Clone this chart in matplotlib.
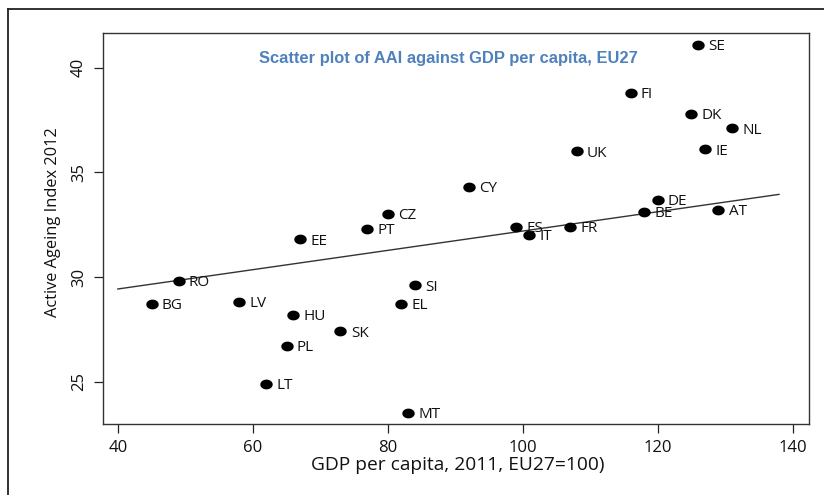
import numpy as np
import matplotlib
matplotlib.use("Agg")
import matplotlib.pyplot as plt
from matplotlib.path import Path
from matplotlib.lines import Line2D

# Country codes, GDP per capita (2011, EU27=100) and Active Ageing Index 2012
countries = ["SE", "FI", "DK", "NL", "IE", "UK", "CY", "DE", "BE", "AT",
             "ES", "IT", "FR", "CZ", "PT", "EE", "RO", "BG", "LV", "HU",
             "SK", "PL", "LT", "SI", "EL", "MT"]
gdp = [126, 116, 125, 131, 127, 108, 92, 120, 118, 129,
       99, 101, 107, 80, 77, 67, 49, 45, 58, 66,
       73, 65, 62, 84, 82, 83]
aai = [41.1, 38.8, 37.8, 37.1, 36.1, 36.0, 34.3, 33.7, 33.1, 33.2,
       32.4, 32.0, 32.4, 33.0, 32.3, 31.8, 29.8, 28.7, 28.8, 28.2,
       27.4, 26.7, 24.9, 29.6, 28.7, 23.5]

# Fitted line endpoints
trend_x = [40, 138]
trend_y = [29.43, 33.95]

x_ticks = [40, 60, 80, 100, 120, 140]
y_ticks = [25, 30, 35, 40]

title = "Scatter plot of AAI against GDP per capita, EU27"
x_label = "GDP per capita, 2011, EU27=100)"
y_label = "Active Ageing Index 2012"

plt.rcParams["font.family"] = ["Open Sans", "DejaVu Sans"]

fig = plt.figure(figsize=(8.24, 4.95), dpi=100)
W, H = 824, 495

# Outer frame (left and top edges)
fig.add_artist(Line2D([8.3 / W, 8.3 / W], [0, 1 - 9.3 / H], transform=fig.transFigure,
                      color="#222222", lw=1.3))
fig.add_artist(Line2D([8.3 / W, 1], [1 - 9.3 / H, 1 - 9.3 / H], transform=fig.transFigure,
                      color="#222222", lw=1.3))

ax_l, ax_r, ax_t, ax_b = 103, 808.7, 33, 424
ax = fig.add_axes([ax_l / W, 1 - ax_b / H, (ax_r - ax_l) / W, (ax_b - ax_t) / H])
ax.set_xlim(37.8, 142.4)
ax.set_ylim(22.98, 41.66)

# Slightly flattened dot marker
t = np.linspace(0, 2 * np.pi, 60)
ell = Path(np.column_stack([1.27 * np.cos(t), np.sin(t)]), closed=True)

ax.plot(trend_x, trend_y, color="#333333", lw=1.0, zorder=2)
ax.scatter(gdp, aai, marker=ell, s=80, color="black", zorder=3, linewidths=0)

for c, x, y in zip(countries, gdp, aai):
    ax.annotate(c, (x, y), xytext=(7.4, -1.2), textcoords="offset points",
                va="center", ha="left", fontsize=11, color="#111111", zorder=4)

ax.set_xticks(x_ticks)
ax.set_yticks(y_ticks)
ax.tick_params(axis="both", direction="out", length=6.5, width=0.9, color="#222222",
               labelsize=12, labelcolor="#111111")
ax.tick_params(axis="x", pad=5)
ax.tick_params(axis="y", pad=5)
for lab in ax.get_yticklabels():
    lab.set_rotation(90)
    lab.set_va("center")

for sp in ax.spines.values():
    sp.set_color("#333333")
    sp.set_linewidth(1.0)

ax.set_xlabel(x_label, fontsize=13.8, color="#111111", va="center")
ax.xaxis.set_label_coords((457.5 - ax_l) / (ax_r - ax_l), (ax_b - 465) / (ax_b - ax_t))
ax.set_ylabel(y_label, fontsize=11.8, color="#111111", va="center")
ax.yaxis.set_label_coords((53 - ax_l) / (ax_r - ax_l), (ax_b - 222) / (ax_b - ax_t))

fig.text(448 / W, 1 - 59 / H, title, ha="center", va="center",
         fontsize=11.9, fontweight="bold", color="#4f81bd",
         family=["Liberation Sans Narrow", "Liberation Sans"])

fig.savefig("out.png", dpi=100)
